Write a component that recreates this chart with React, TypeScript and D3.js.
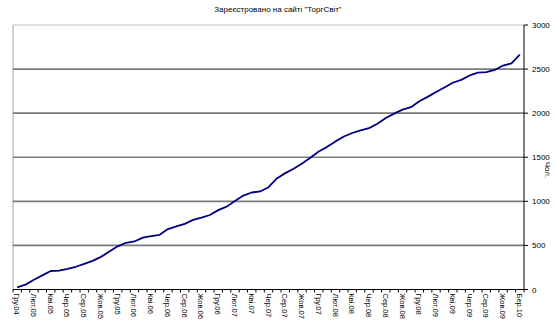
import React from "react";
import * as d3 from "d3";

const title = "Зареєстровано на сайті  \"ТоргСвіт\"";
const yAxisTitle = "Чол.";

const registered: number[] = [
  25, 55, 110, 160, 210, 215, 235, 258, 290, 325,
  370, 430, 490, 530, 545, 588, 605, 620, 685, 715,
  745, 790, 815, 845, 900, 940, 1005, 1065, 1100, 1112,
  1160, 1260, 1320, 1370, 1430, 1495, 1565, 1618, 1680, 1735,
  1775, 1805, 1830, 1880, 1945, 1995, 2040, 2068, 2135, 2185,
  2240, 2292, 2345, 2378, 2428, 2460, 2466, 2490, 2540, 2565,
  2664,
];

const tickLabels: string[] = [
  "Гру.04", "Лют.05", "Кві.05", "Чер.05", "Сер.05", "Жов.05",
  "Гру.05", "Лют.06", "Кві.06", "Чер.06", "Сер.06", "Жов.06",
  "Гру.06", "Лют.07", "Кві.07", "Чер.07", "Сер.07", "Жов.07",
  "Гру.07", "Лют.08", "Кві.08", "Чер.08", "Сер.08", "Жов.08",
  "Гру.08", "Лют.09", "Кві.09", "Чер.09", "Сер.09", "Жов.09",
  "Бер.10",
];

const yTicks: number[] = [0, 500, 1000, 1500, 2000, 2500, 3000];

export default function App() {
  const W = 556, H = 328;
  const left = 13, right = 524, top = 25, bottom = 289.5;
  const font = "'Liberation Sans', Arial, sans-serif";

  const x = d3.scaleBand<number>().domain(d3.range(registered.length)).range([left, right]).paddingInner(0).paddingOuter(0);
  const y = d3.scaleLinear().domain([0, 3000]).range([bottom, top]);
  const cx = (i: number) => (x(i) as number) + x.bandwidth() / 2;

  const line = d3.line<number>().x((_, i) => cx(i)).y((d) => y(d));

  const boundaries = d3.range(registered.length + 1).map((i) => left + i * x.bandwidth());

  return (
    <svg width={W} height={H} style={{ position: "absolute", left: 0, top: 0, background: "#fff" }} fontFamily={font}>
      <rect x={0} y={0} width={W} height={H} fill="#fff" />
      <text x={278} y={12} textAnchor="middle" fontSize={8} fill="#000">{title}</text>
      {/* plot border */}
      <line x1={left} x2={right} y1={top} y2={top} stroke="#c0c0c0" strokeWidth={1} />
      <line x1={left} x2={left} y1={top} y2={bottom} stroke="#a0a0a0" strokeWidth={1} />
      {/* gridlines */}
      {yTicks.filter((t) => t > 0 && t < 3000).map((t) => (
        <line key={t} x1={left} x2={right} y1={y(t)} y2={y(t)} stroke="#7a7a7a" strokeWidth={1.6} />
      ))}
      {/* right axis */}
      <line x1={right} x2={right} y1={top} y2={bottom} stroke="#000" strokeWidth={1} />
      {yTicks.map((t) => (
        <g key={t}>
          <line x1={right} x2={right + 4} y1={y(t)} y2={y(t)} stroke="#000" strokeWidth={1} />
          <text x={right + 8} y={y(t) + 3} fontSize={8} fill="#000">{t}</text>
        </g>
      ))}
      <text transform={`translate(545,170) rotate(90)`} fontSize={8} fill="#000" textAnchor="middle">{yAxisTitle}</text>
      {/* bottom axis */}
      <line x1={left} x2={right} y1={bottom} y2={bottom} stroke="#000" strokeWidth={1} />
      {boundaries.map((bx, i) => (
        <line key={i} x1={bx} x2={bx} y1={bottom} y2={bottom + 3} stroke="#000" strokeWidth={1} />
      ))}
      {tickLabels.map((lab, k) => (
        <text key={lab} transform={`translate(${cx(k * 2) - 3},${bottom + 4}) rotate(90)`} fontSize={7.5} fill="#000">{lab}</text>
      ))}
      <path d={line(registered) || ""} fill="none" stroke="#000080" strokeWidth={1.8} strokeLinejoin="round" />
    </svg>
  );
}
